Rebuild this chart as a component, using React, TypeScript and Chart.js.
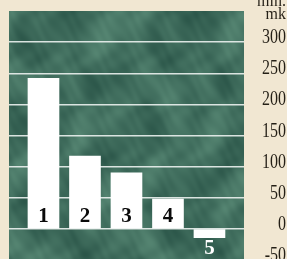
import React, { useEffect, useRef } from 'react';
import { Chart, registerables } from 'chart.js';

Chart.register(...registerables);

const categories = ['1', '2', '3', '4', '5'];
const values = [242, 117, 90, 48, -14];
const yTicks = [300, 250, 200, 150, 100, 50, 0, -50];
const unitLines = ['mln.', 'mk'];

export default function App() {
  const ref = useRef<HTMLCanvasElement>(null);

  useEffect(() => {
    const canvas = ref.current;
    if (!canvas) return;

    const bgPlugin = {
      id: 'bgPlugin',
      beforeDraw(chart: any) {
        const { ctx, chartArea: a, width, height } = chart;
        ctx.save();
        ctx.fillStyle = '#F1E7D2';
        ctx.fillRect(0, 0, width, height);
        const left = Math.round(a.left);
        const top = Math.round(a.top);
        const w = Math.round(a.right) - left;
        const h = Math.round(a.bottom) - top;
        const img = ctx.createImageData(w, h);
        for (let y = 0; y < h; y++) {
          for (let x = 0; x < w; x++) {
            const n =
              0.4 * Math.sin(0.05 * x + 2.6 * Math.sin(0.035 * y + 0.8) + 1.1 * Math.sin(0.09 * x)) +
              0.3 * Math.sin(0.08 * y + 2.1 * Math.sin(0.05 * x + 1.3)) +
              0.18 * Math.sin(0.19 * (x + 0.6 * y) + 1.5 * Math.sin(0.13 * y)) +
              0.12 * Math.sin(0.47 * x - 0.31 * y + Math.sin(0.2 * x));
            const t = Math.max(0, Math.min(1, 0.4 + 0.33 * n));
            const i = (y * w + x) * 4;
            img.data[i] = 38 + t * 66;
            img.data[i + 1] = 80 + t * 74;
            img.data[i + 2] = 68 + t * 64;
            img.data[i + 3] = 255;
          }
        }
        ctx.putImageData(img, left, top);
        ctx.restore();
      },
      afterDatasetsDraw(chart: any) {
        const { ctx } = chart;
        const meta = chart.getDatasetMeta(0);
        const zero = chart.scales.y.getPixelForValue(0);
        ctx.save();
        ctx.font = 'bold 21px "Liberation Serif"';
        ctx.textAlign = 'center';
        ctx.textBaseline = 'alphabetic';
        meta.data.forEach((el: any, i: number) => {
          const v = values[i];
          if (v >= 0) {
            ctx.fillStyle = '#0A0A0A';
            ctx.fillText(categories[i], el.x, zero - 7);
          } else {
            ctx.fillStyle = '#FFFFFF';
            ctx.fillText(categories[i], el.x, el.y + 16);
          }
        });
        ctx.restore();
      },
      afterDraw(chart: any) {
        const { ctx } = chart;
        const ys = chart.scales.y;
        ctx.save();
        ctx.fillStyle = '#241F16';
        ctx.textAlign = 'right';
        ctx.textBaseline = 'alphabetic';
        ctx.font = '20px "Liberation Serif"';
        yTicks.forEach((t) => {
          const py = ys.getPixelForValue(t);
          ctx.save();
          ctx.translate(286, py + 1);
          ctx.scale(0.8, 1);
          ctx.fillText(String(t), 0, 0);
          ctx.restore();
        });
        ctx.font = '16px "Liberation Serif"';
        ctx.fillText(unitLines[0], 286, 6);
        ctx.fillText(unitLines[1], 286, 19);
        ctx.restore();
      },
    };

    const chart = new Chart(canvas, {
      type: 'bar',
      data: {
        labels: categories,
        datasets: [
          {
            data: values.map((v, i) => ({ x: i + 1, y: v })),
            backgroundColor: '#FFFFFF',
            borderWidth: 0,
            barThickness: 31,
          },
        ],
      },
      options: {
        responsive: false,
        animation: false,
        layout: { padding: { left: 9, top: 11, right: 43, bottom: 2 } },
        plugins: { legend: { display: false }, tooltip: { enabled: false } },
        scales: {
          x: {
            type: 'linear',
            min: 0.169,
            max: 5.832,
            offset: false,
            display: false,
            grid: { offset: false },
          },
          y: {
            min: -50,
            max: 350,
            display: true,
            ticks: { display: false, stepSize: 50 },
            border: { display: false },
            grid: {
              drawTicks: false,
              lineWidth: 1.5,
              color: (c: any) =>
                c.tick && c.tick.value === 350 ? 'rgba(0,0,0,0)' : 'rgba(236,242,239,0.9)',
            },
          },
        },
      },
      plugins: [bgPlugin],
    });

    return () => chart.destroy();
  }, []);

  return (
    <div
      style={{
        position: 'fixed',
        left: 0,
        top: 0,
        width: 287,
        height: 259,
        overflow: 'hidden',
      }}
    >
      <canvas ref={ref} width={287} height={262} style={{ display: 'block', width: 287, height: 262 }} />
    </div>
  );
}
